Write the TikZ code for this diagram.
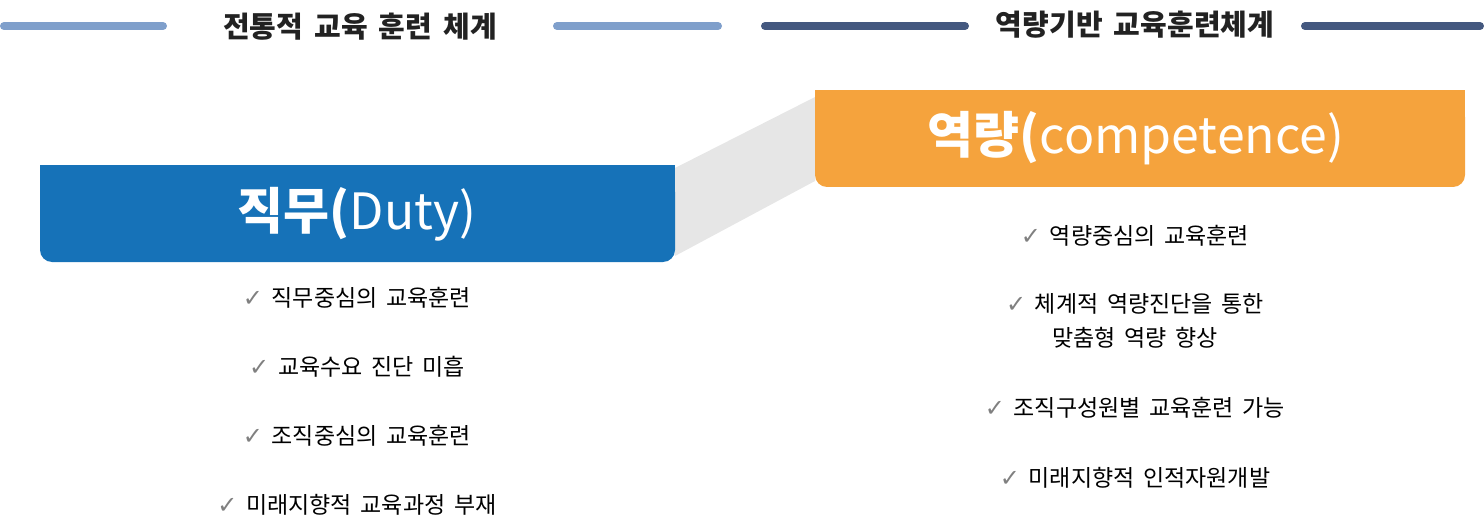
\documentclass[tikz,border=0pt]{standalone}
\usepackage{fontspec}
\setmainfont{Noto Sans CJK KR}[WordSpace=1.7]
\newfontfamily\chk{DejaVu Sans}
\definecolor{hdrlight}{HTML}{7F9FCB}
\definecolor{hdrdark}{HTML}{44587F}
\definecolor{dutyblue}{HTML}{1672B8}
\definecolor{compor}{HTML}{F5A33D}
\definecolor{linkgray}{HTML}{E6E6E6}
\definecolor{txt}{HTML}{222222}
\definecolor{chkgray}{HTML}{808080}
\tikzset{
  hline/.style={line width=8pt, line cap=round},
  hdr/.style={font=\fontsize{29}{34}\selectfont\bfseries, text=txt, inner sep=0pt},
  item/.style={font=\fontsize{23}{34}\selectfont, text=black, inner sep=0pt, align=center},
  bigt/.style={font=\fontsize{50}{56}\selectfont, text=white, inner sep=0pt},
}
\newcommand{\ck}{{\chk\color{chkgray}\fontsize{24}{24}\selectfont ✓}\ }
\begin{document}
\begin{tikzpicture}[x=1pt,y=-1pt]
\useasboundingbox (0,0) rectangle (1484,532);
% headers
\draw[hline, hdrlight] (4,26) -- (163,26);
\draw[hline, hdrlight] (557,26) -- (718,26);
\node[hdr] (h1) at (360,27) {전통적 교육 훈련 체계};
\draw[hline, hdrdark] (765,26) -- (965,26);
\draw[hline, hdrdark] (1305,26) -- (1480,26);
\node[hdr] (h2) at (1135,25) {역량기반 교육훈련체계};
% link band
\fill[linkgray] (675,168) -- (815,97) -- (815,181) -- (675,256) -- cycle;
% boxes
\fill[dutyblue] (40,165) rectangle (675,200);
\fill[dutyblue, rounded corners=12pt] (40,180) rectangle (675,262);
\fill[compor] (815,90) rectangle (1465,130);
\fill[compor, rounded corners=12pt] (815,105) rectangle (1465,187);
\node[bigt] (duty) at (357,214) {\textbf{직무(}Duty)};
\node[bigt] (comp) at (1136,138) {\textbf{역량(}competence)};
% left items
\node[item] (l1) at (357,298) {\ck 직무중심의 교육훈련};
\node[item] (l2) at (357,367) {\ck 교육수요 진단 미흡};
\node[item] (l3) at (357,436) {\ck 조직중심의 교육훈련};
\node[item] (l4) at (357,505) {\ck 미래지향적 교육과정 부재};
% right items
\node[item] (r1) at (1135,236) {\ck 역량중심의 교육훈련};
\node[item] (r2) at (1135,321) {\ck 체계적 역량진단을 통한\\맞춤형 역량 향상};
\node[item] (r3) at (1135,408) {\ck 조직구성원별 교육훈련 가능};
\node[item] (r4) at (1135,478) {\ck 미래지향적 인적자원개발};
\end{tikzpicture}
\end{document}
